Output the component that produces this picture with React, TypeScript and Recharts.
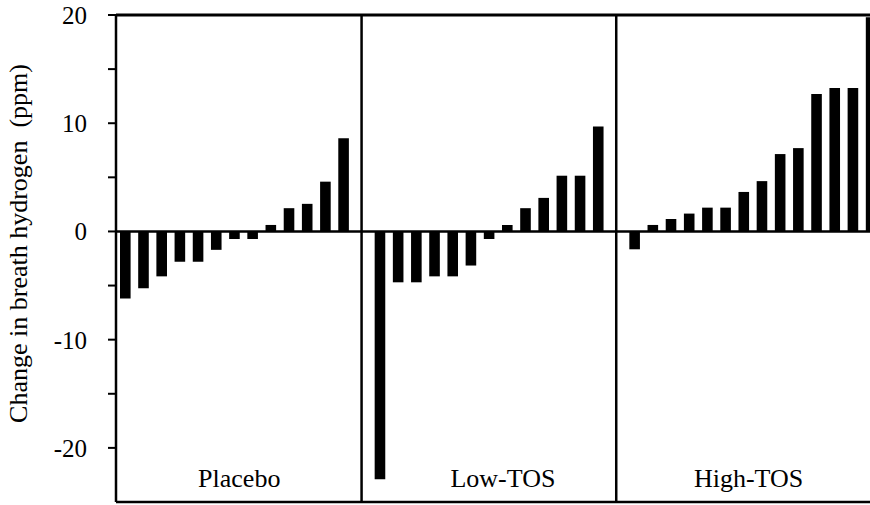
import React from "react";
import { BarChart, Bar, XAxis, YAxis, ReferenceLine, Label } from "recharts";

const groupNames = ["Placebo", "Low-TOS", "High-TOS"];
const placeboValues = [-6.2, -5.25, -4.15, -2.8, -2.8, -1.7, -0.7, -0.7, 0.6, 2.15, 2.55, 4.6, 8.6];
const lowTosValues = [-22.9, -4.7, -4.7, -4.15, -4.15, -3.15, -0.7, 0.6, 2.15, 3.1, 5.15, 5.15, 9.7];
const highTosValues = [-1.65, 0.6, 1.15, 1.65, 2.2, 2.2, 3.65, 4.65, 7.15, 7.7, 12.7, 13.25, 13.25, 19.8];
const yTicks = [-20, -15, -10, -5, 0, 5, 10, 15, 20];
const yLabels = [-20, -10, 0, 10, 20];

const groups = [placeboValues, lowTosValues, highTosValues];
const data: { id: string; value: number | null; group: number }[] = [];
groups.forEach((vals, gi) => {
  vals.forEach((v, i) => data.push({ id: `g${gi}-${i}`, value: v, group: gi }));
  if (gi < groups.length - 1) data.push({ id: `sep${gi}`, value: null, group: -1 });
});

// label anchor: middle category of each group, with a small shift
const labelAnchors: Record<string, { name: string; dx: number }> = {
  "g0-6": { name: groupNames[0], dx: 5 },
  "g1-6": { name: groupNames[1], dx: 14 },
  "g2-6": { name: groupNames[2], dx: 5 },
};

const FONT = "'Liberation Serif', 'Times New Roman', serif";

const renderGroupTick = (props: any) => {
  const { x, y, payload } = props;
  const a = labelAnchors[payload && payload.value];
  if (!a) return <g />;
  return (
    <text x={x + a.dx} y={y} dy={-15} textAnchor="middle" fontFamily={FONT} fontSize={26} fill="#000">
      {a.name}
    </text>
  );
};

export default function App() {
  return (
    <div style={{ position: "absolute", left: 0, top: 0, width: 870, height: 505, overflow: "hidden", background: "#fff" }}>
      <BarChart width={880} height={505} data={data} margin={{ top: 15, right: 0, bottom: 2, left: 0 }}>
        <XAxis
          dataKey="id"
          height={1}
          axisLine={false}
          tickLine={false}
          tickSize={0}
          tickMargin={0}
          interval={0}
          tick={renderGroupTick}
        />
        <YAxis
          width={116}
          domain={[-25, 20]}
          allowDataOverflow
          ticks={yTicks}
          interval={0}
          tickFormatter={(v: number) => (yLabels.includes(v) ? String(v) : "")}
          axisLine={{ stroke: "#000", strokeWidth: 2.5 }}
          tickLine={{ stroke: "#000", strokeWidth: 2 }}
          tickSize={8}
          tickMargin={21}
          tick={{ fontFamily: FONT, fontSize: 25, fill: "#000" }}
        >
          <Label
            content={(p: any) => {
              const vb = p.viewBox;
              const cx = vb.x + 18;
              const cy = vb.y + vb.height / 2 - 15;
              return (
                <text
                  x={cx}
                  y={cy}
                  transform={`rotate(-90, ${cx}, ${cy})`}
                  textAnchor="middle"
                  dominantBaseline="central"
                  fontFamily={FONT}
                  fontSize={26}
                  fill="#000"
                  style={{ whiteSpace: "pre" }}
                >
                  {"Change in breath hydrogen  (ppm)"}
                </text>
              );
            }}
          />
        </YAxis>
        <ReferenceLine y={20} stroke="#000" strokeWidth={3} />
        <ReferenceLine y={-25} stroke="#000" strokeWidth={2.5} />
        <ReferenceLine x="sep0" stroke="#000" strokeWidth={2.5} />
        <ReferenceLine x="sep1" stroke="#000" strokeWidth={2.5} />
        <Bar dataKey="value" fill="#000" barSize={10.6} isAnimationActive={false} />
        <ReferenceLine y={0} stroke="#000" strokeWidth={2.5} />
      </BarChart>
    </div>
  );
}
